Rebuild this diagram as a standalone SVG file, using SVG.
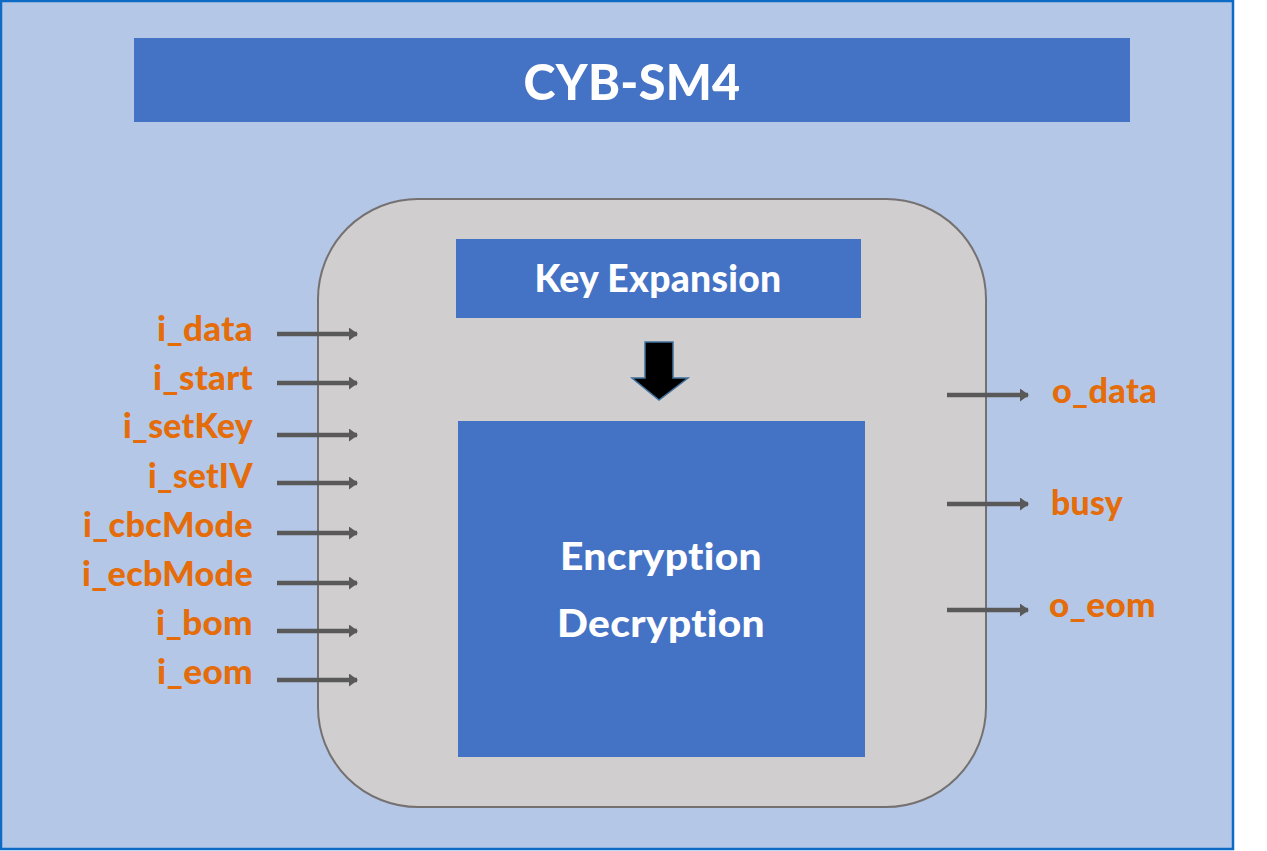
<svg xmlns="http://www.w3.org/2000/svg" width="1267" height="851" viewBox="0 0 1267 851">
<style>
text{font-variant-ligatures:none;font-feature-settings:"liga" 0,"dlig" 0,"clig" 0;letter-spacing:0.3px}
.lbl{font-family:Lato,"Open Sans","Liberation Sans",sans-serif;font-weight:900;font-size:34px;fill:#E46C0A}
.wt{font-family:Lato,"Open Sans","Liberation Sans",sans-serif;font-weight:900;fill:#FFFFFF;text-anchor:middle}
.blue{fill:#4472C4}
.sig{stroke:#595959;stroke-width:4.5;fill:none;marker-end:url(#ah)}
</style>
<defs>
<marker id="ah" markerUnits="userSpaceOnUse" markerWidth="10" markerHeight="13" refX="8" refY="6.5" orient="auto">
<path d="M0,0 L9,6.5 L0,13 Z" fill="#595959"/>
</marker>
</defs>
<rect x="1" y="1" width="1232" height="848" fill="#B4C7E7" stroke="#0D6BC5" stroke-width="2.5"/>
<g id="title">
<rect class="blue" x="134" y="38" width="996" height="84"/>
<text class="wt" x="632" y="100" font-size="50" textLength="217" lengthAdjust="spacingAndGlyphs">CYB-SM4</text>
</g>
<g id="core">
<rect x="318" y="199" width="668" height="608" rx="100" ry="100" fill="#D0CECE" stroke="#767171" stroke-width="2"/>
</g>
<g id="keyexp">
<rect class="blue" x="456" y="239" width="405" height="79"/>
<text class="wt" x="658" y="292" font-size="37" textLength="247" lengthAdjust="spacingAndGlyphs">Key Expansion</text>
</g>
<g id="downarrow">
<path d="M645,342 L673,342 L673,378 L688,378 L659,400 L632,378 L645,378 Z" fill="#000000" stroke="#41719C" stroke-width="1.5"/>
</g>
<g id="encdec">
<rect class="blue" x="458" y="421" width="407" height="336"/>
<text class="wt" x="661" y="570" font-size="37" textLength="202" lengthAdjust="spacingAndGlyphs">Encryption</text>
<text class="wt" x="661" y="637" font-size="37" textLength="208" lengthAdjust="spacingAndGlyphs">Decryption</text>
</g>
<g id="inputs">
<text class="lbl" x="157" y="341" textLength="96" lengthAdjust="spacingAndGlyphs">i_data</text>
<text class="lbl" x="153" y="390" textLength="100" lengthAdjust="spacingAndGlyphs">i_start</text>
<text class="lbl" x="123" y="438" textLength="130" lengthAdjust="spacingAndGlyphs">i_setKey</text>
<text class="lbl" x="148" y="488" textLength="105" lengthAdjust="spacingAndGlyphs">i_setIV</text>
<text class="lbl" x="83" y="537" textLength="170" lengthAdjust="spacingAndGlyphs">i_cbcMode</text>
<text class="lbl" x="82" y="586" textLength="171" lengthAdjust="spacingAndGlyphs">i_ecbMode</text>
<text class="lbl" x="156" y="635" textLength="97" lengthAdjust="spacingAndGlyphs">i_bom</text>
<text class="lbl" x="157" y="684" textLength="96" lengthAdjust="spacingAndGlyphs">i_eom</text>
</g>
<g id="outputs">
<text class="lbl" x="1052" y="403" textLength="105" lengthAdjust="spacingAndGlyphs">o_data</text>
<text class="lbl" x="1051" y="515" textLength="72" lengthAdjust="spacingAndGlyphs">busy</text>
<text class="lbl" x="1049" y="617" textLength="107" lengthAdjust="spacingAndGlyphs">o_eom</text>
</g>
<g id="connectors">
<line class="sig" x1="277" y1="334" x2="357" y2="334"/>
<line class="sig" x1="277" y1="383" x2="357" y2="383"/>
<line class="sig" x1="277" y1="435" x2="357" y2="435"/>
<line class="sig" x1="277" y1="483" x2="357" y2="483"/>
<line class="sig" x1="277" y1="533" x2="357" y2="533"/>
<line class="sig" x1="277" y1="583" x2="357" y2="583"/>
<line class="sig" x1="277" y1="631" x2="357" y2="631"/>
<line class="sig" x1="277" y1="680" x2="357" y2="680"/>
<line class="sig" x1="947" y1="395" x2="1028" y2="395"/>
<line class="sig" x1="947" y1="504" x2="1028" y2="504"/>
<line class="sig" x1="947" y1="610" x2="1028" y2="610"/>
</g>
</svg>
